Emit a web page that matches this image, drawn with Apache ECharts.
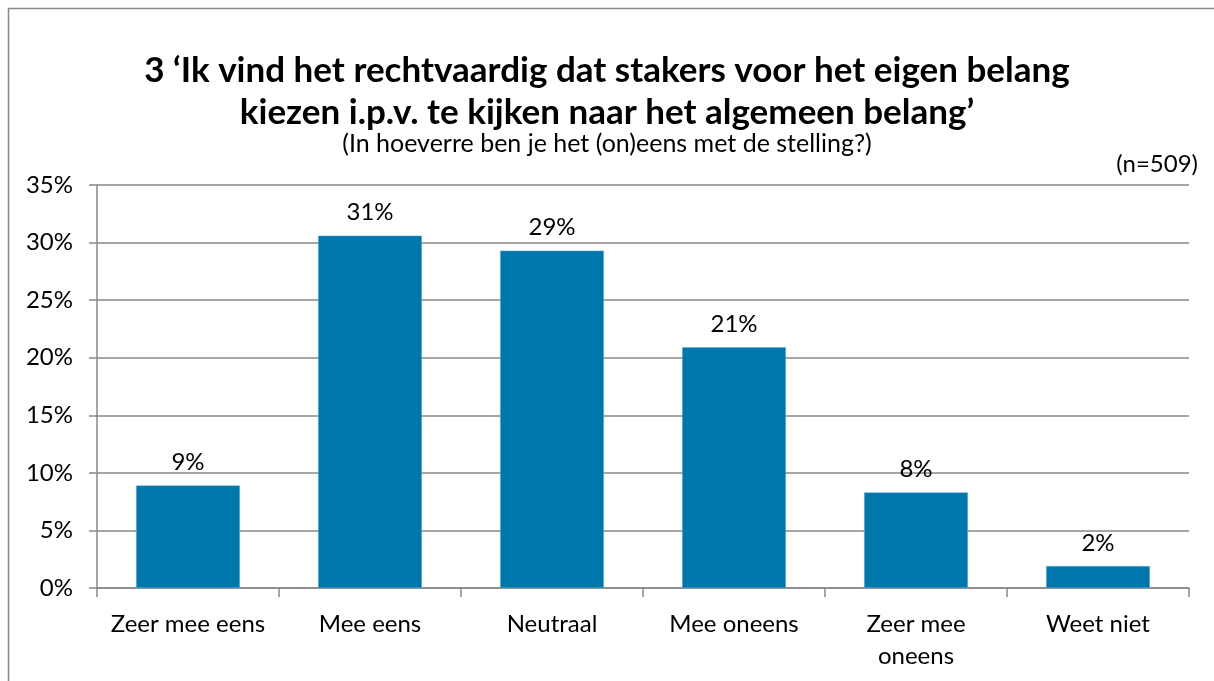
<!DOCTYPE html>
<html>
<head>
<meta charset="utf-8">
<script src="https://cdn.jsdelivr.net/npm/echarts@6/dist/echarts.min.js"></script>
<style>
  html, body { margin: 0; padding: 0; background: #fff; }
  #chart { width: 1214px; height: 681px; }
</style>
</head>
<body>
<div id="chart"></div>
<script>
var categories = ['Zeer mee eens', 'Mee eens', 'Neutraal', 'Mee oneens', 'Zeer mee\noneens', 'Weet niet'];
var values = [8.9, 30.6, 29.3, 20.9, 8.3, 1.9];
var valueLabels = ['9%', '31%', '29%', '21%', '8%', '2%'];

var titleLines = ['3 \u2018Ik vind het rechtvaardig dat stakers voor het eigen belang', 'kiezen i.p.v. te kijken naar het algemeen belang\u2019'];
var subText = '(In hoeverre ben je het (on)eens met de stelling?)';
var nText = '(n=509)';

var font = 'Lato, "Open Sans", sans-serif';
var myChart = echarts.init(document.getElementById('chart'));

var titleStyle = { fontFamily: font, fontSize: 35, fontWeight: 'bold', color: '#000' };

myChart.setOption({
    animation: false,
    title: [{
        text: titleLines[0],
        left: 'center',
        top: 48,
        textStyle: titleStyle
    }, {
        text: titleLines[1],
        left: 'center',
        top: 90,
        textStyle: titleStyle
    }, {
        text: subText,
        left: 'center',
        top: 126,
        textStyle: { fontFamily: font, fontSize: 25, fontWeight: 'normal', color: '#000' }
    }, {
        text: nText,
        right: 11,
        top: 147,
        textStyle: { fontFamily: font, fontSize: 24, fontWeight: 'normal', color: '#000' }
    }],
    graphic: [{
        type: 'rect',
        shape: { x: 8.5, y: 8.5, width: 1220, height: 700 },
        style: { fill: 'none', stroke: '#888', lineWidth: 1.5 }
    }],
    grid: { left: 97, right: 25, top: 185, bottom: 93 },
    xAxis: {
        type: 'category',
        data: categories,
        axisLine: { lineStyle: { color: '#888', width: 1.5 } },
        axisTick: { show: true, length: 9, alignWithLabel: false, lineStyle: { color: '#888', width: 1.5 } },
        axisLabel: { fontFamily: font, fontSize: 24, color: '#000', margin: 20, lineHeight: 32, interval: 0 }
    },
    yAxis: {
        type: 'value',
        min: 0,
        max: 35,
        interval: 5,
        axisLine: { show: true, lineStyle: { color: '#888', width: 1.5 } },
        axisTick: { show: true, length: 8, lineStyle: { color: '#888', width: 1.5 } },
        splitLine: { lineStyle: { color: '#888', width: 1.5 } },
        axisLabel: { fontFamily: font, fontSize: 24, color: '#000', margin: 24, formatter: '{value}%' }
    },
    series: [{
        type: 'bar',
        data: values,
        barCategoryGap: '43%',
        itemStyle: { color: '#0077AC', borderColor: '#5aa9d0', borderWidth: 0.5 },
        label: {
            show: true,
            position: 'top',
            distance: 11,
            fontFamily: font,
            fontSize: 24,
            color: '#000',
            formatter: function (p) { return valueLabels[p.dataIndex]; }
        }
    }]
});
</script>
</body>
</html>
